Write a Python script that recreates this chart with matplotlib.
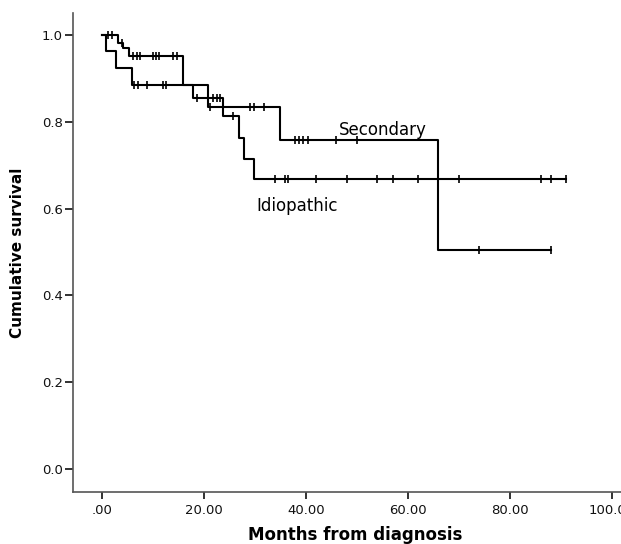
import numpy as np
import matplotlib
matplotlib.use("Agg")
import matplotlib.pyplot as plt

# Kaplan-Meier steps (months, cumulative survival)
sec_times = [0, 0.8, 2.8, 5.9, 20.9, 35.0, 66.0, 88.0]
sec_surv = [1.0, 0.962, 0.923, 0.885, 0.833, 0.758, 0.505, 0.505]
sec_censor = [6.3, 7.2, 8.9, 12.0, 12.6, 21.3, 29.1, 29.8, 31.9,
              37.9, 38.7, 39.5, 40.4, 45.9, 50.0, 74.0, 88.0]

idi_times = [0, 3.1, 4.2, 5.4, 16.0, 17.8, 23.8, 27.0, 27.8, 29.9, 91.0]
idi_surv = [1.0, 0.982, 0.970, 0.952, 0.885, 0.855, 0.813, 0.763, 0.715, 0.667, 0.667]
idi_censor = [1.3, 2.0, 4.0, 6.2, 6.9, 7.4, 10.0, 10.6, 11.3, 13.9, 14.8,
              18.6, 21.8, 22.5, 23.2, 25.8, 34.0, 36.0, 36.6, 42.0, 48.0,
              53.9, 57.1, 62.1, 70.1, 86.1, 88.0, 91.0]

x_ticks = [0, 20, 40, 60, 80, 100]
x_labels = [".00", "20.00", "40.00", "60.00", "80.00", "100.00"]
y_ticks = [0.0, 0.2, 0.4, 0.6, 0.8, 1.0]


def step_value(times, surv, t):
    # survival level in force at time t (right-continuous step)
    idx = np.searchsorted(times, t, side="right") - 1
    return np.asarray(surv)[idx]


fig = plt.figure(figsize=(6.21, 5.44), dpi=100)
ax = fig.add_axes([0.1171, 0.0961, 0.909, 0.880])

for times, surv, cens in [(sec_times, sec_surv, sec_censor),
                          (idi_times, idi_surv, idi_censor)]:
    ax.plot(times, surv, drawstyle="steps-post", color="black", lw=1.5)
    ax.plot(cens, step_value(times, surv, cens), ls="none", marker="|",
            ms=6, mew=1.2, color="black")

ax.text(46.4, 0.802, "Secondary", fontsize=12, va="top", ha="left")
ax.text(30.4, 0.627, "Idiopathic", fontsize=12, va="top", ha="left")

ax.set_xlim(-5.7, 105)
ax.set_ylim(-0.0516, 1.05)
ax.set_xticks(x_ticks)
ax.set_xticklabels(x_labels)
ax.set_yticks(y_ticks)
ax.set_yticklabels([f"{v:.1f}" for v in y_ticks])

for s in ["top", "right"]:
    ax.spines[s].set_visible(False)
for s in ["left", "bottom"]:
    ax.spines[s].set_color("#555555")
    ax.spines[s].set_linewidth(1.2)

ax.tick_params(axis="x", length=5, width=1.3, color="#222222", pad=3.5,
               labelsize=9.5, labelcolor="#111111")
ax.tick_params(axis="y", length=6, width=1.3, color="#222222", pad=1,
               labelsize=9.5, labelcolor="#111111")

ax.set_xlabel("Months from diagnosis", fontsize=12, fontweight="bold", labelpad=7)
ax.set_ylabel("Cumulative survival", fontsize=11, fontweight="bold", labelpad=12)

fig.savefig("out.png", dpi=100)
